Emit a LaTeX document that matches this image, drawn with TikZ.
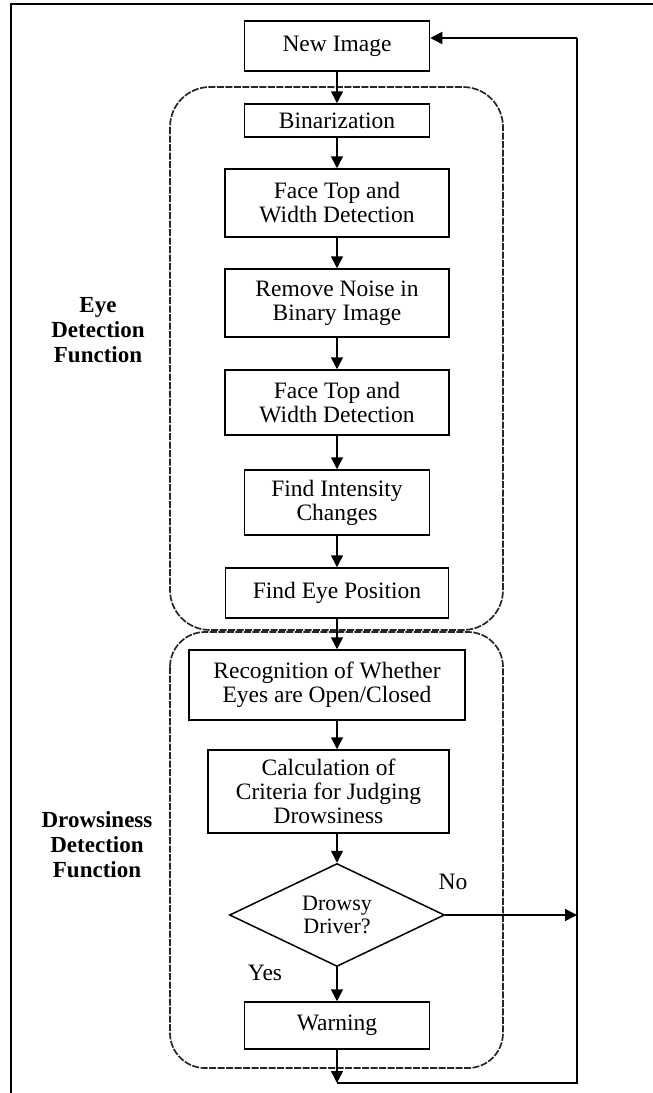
\documentclass[tikz,border=0pt]{standalone}
\usepackage{fontspec}
\setmainfont{Liberation Serif}
\usetikzlibrary{arrows.meta,shapes.geometric}
\tikzset{
  box/.style={draw, line width=1.5pt, align=center, inner sep=0pt,
    font=\fontsize{23.5}{24}\selectfont},
  arr/.style={line width=1.5pt, -{Triangle[length=12pt,width=12pt]}},
  line/.style={line width=1.5pt},
  region/.style={line width=1.7pt, black!85, dash pattern=on 7pt off 1.5pt},
  side/.style={font=\bfseries\fontsize{23}{25}\selectfont, align=center},
  lbl/.style={font=\fontsize{23.5}{24}\selectfont},
  frame/.style={line width=2.6pt}
}
\begin{document}
\begin{tikzpicture}[x=1pt,y=-1pt]
\useasboundingbox (0,0) rectangle (653,1093);
% outer frame
\coordinate (ftr) at (653,4);
\coordinate (ftl) at (11,4);
\coordinate (fbl) at (11,1093);
\draw[frame] (ftr) -- (ftl) -- (fbl);
% regions
\draw[region, rounded corners=40pt] (170,87) rectangle (503,630);
\draw[region, rounded corners=35pt] (170,632) rectangle (503,1068);
% boxes
\node[box, minimum width=185pt, minimum height=50pt] (newimg) at (337,46) {New Image};
\node[box, minimum width=185pt, minimum height=33pt] (binar) at (337,120.5) {Binarization};
\node[box, minimum width=224pt, minimum height=68pt] (face1) at (337,203) {Face Top and\\Width Detection};
\node[box, minimum width=224pt, minimum height=68pt] (noise) at (337,303) {Remove Noise in\\Binary Image};
\node[box, minimum width=224pt, minimum height=65pt] (face2) at (337,402.5) {Face Top and\\Width Detection};
\node[box, minimum width=185pt, minimum height=65pt] (inten) at (337,502.5) {Find Intensity\\Changes};
\node[box, minimum width=223pt, minimum height=50pt] (eyepos) at (337,593) {Find Eye Position};
\node[box, minimum width=276pt, minimum height=70pt] (recog) at (327,685) {Recognition of Whether\\Eyes are Open/Closed};
\node[box, minimum width=241pt, minimum height=83pt] (calc) at (328.5,791.5) {Calculation of\\Criteria for Judging\\Drowsiness};
\node[box, diamond, aspect=2.09, minimum width=215pt, minimum height=103pt,
  font=\fontsize{22}{23}\selectfont] (dia) at (337,915) {Drowsy\\Driver?};
\node[box, minimum width=185pt, minimum height=47pt] (warn) at (337,1025.5) {Warning};
% side labels
\node[side] (eyelbl) at (98,330) {Eye\\Detection\\Function};
\node[side] (drlbl) at (97,845) {Drowsiness\\Detection\\Function};
% branch labels
\node[lbl] (no) at (453,882) {No};
\node[lbl] (yes) at (265,973) {Yes};
% connectors
\draw[arr] (newimg) -- (binar);
\draw[arr] (binar) -- (face1);
\draw[arr] (face1) -- (noise);
\draw[arr] (noise) -- (face2);
\draw[arr] (face2) -- (inten);
\draw[arr] (inten) -- (eyepos);
\draw[arr] (eyepos.south) -- (eyepos.south |- recog.north);
\draw[arr] (eyepos.south |- recog.south) -- (eyepos.south |- calc.north);
\draw[arr] (dia.north |- calc.south) -- (dia.north);
\draw[arr] (dia) -- (warn);
\coordinate (rb) at (577,1083);
\coordinate (rt) at (577,38);
\coordinate (rn) at (577,915);
\coordinate (wb) at (337,1083);
\draw[arr] (warn) -- (wb);
\draw[arr] (dia.east) -- (rn);
\draw[line] (wb) -- (rb) -- (rt);
\draw[arr] (rt) -- (rt -| newimg.east);
\end{tikzpicture}
\end{document}
